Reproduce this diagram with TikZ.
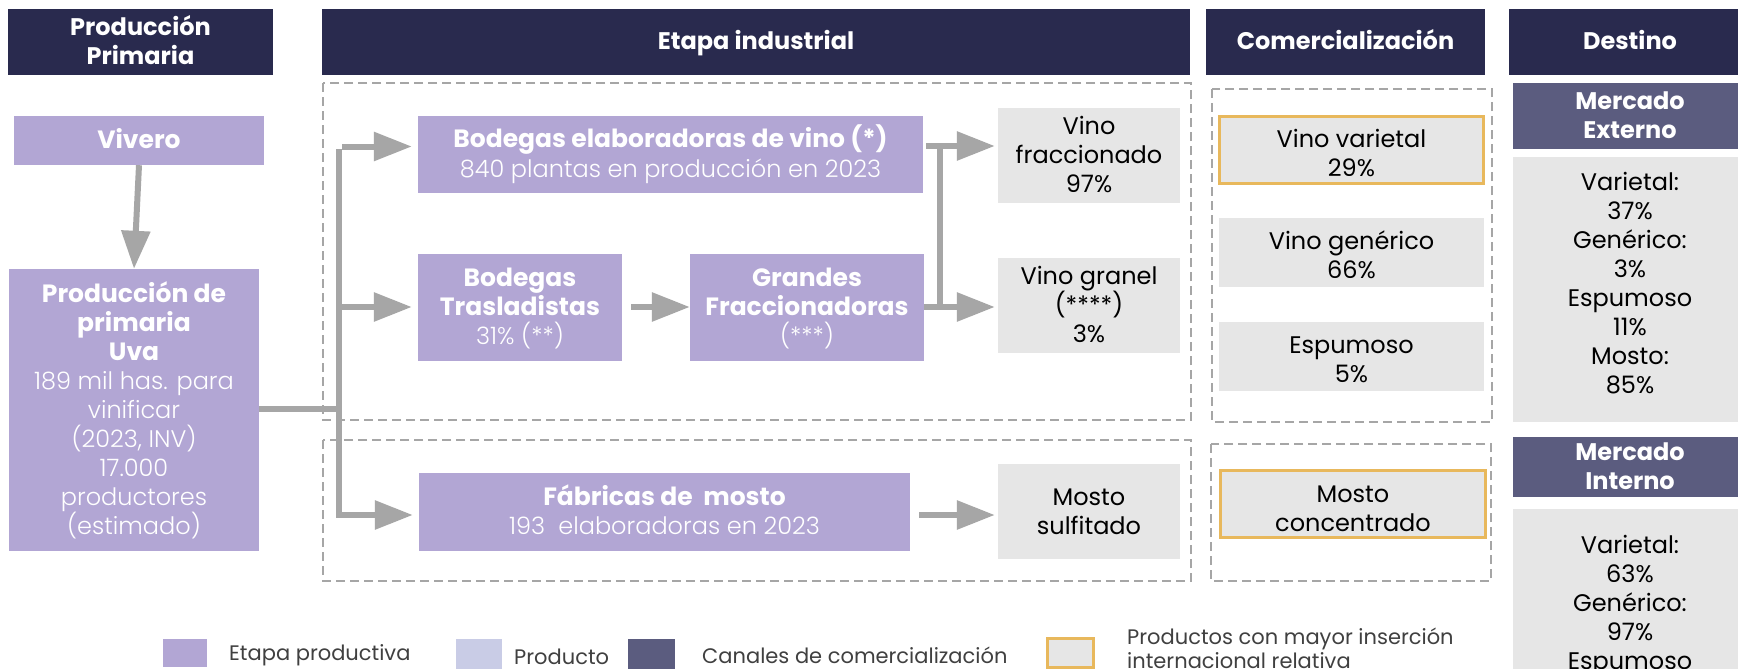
\documentclass[tikz,border=0pt]{standalone}
\usepackage{fontspec}
\setmainfont{Poppins}
\newfontfamily\lightfont{Poppins Light}
\usetikzlibrary{arrows.meta}
\definecolor{navy}{HTML}{292A4E}
\definecolor{lav}{HTML}{B2A6D4}
\definecolor{lgrey}{HTML}{E6E6E6}
\definecolor{slate}{HTML}{5B5C7F}
\definecolor{peri}{HTML}{C9CCE6}
\definecolor{gold}{HTML}{E8B85C}
\definecolor{agrey}{HTML}{A6A6A6}
\definecolor{ltxt}{HTML}{404040}
\newcommand{\fs}{\fontsize{24}{29}\selectfont}
\newcommand{\bfs}{\fontsize{25}{29}\selectfont\bfseries}
\newcommand{\lgfs}{\fontsize{21}{24}\selectfont}
\newcommand{\lt}[1]{{\lightfont #1}}
\newcommand{\bd}[1]{{\bfs #1}}
\newcommand{\sr}{\rule[-6.5pt]{0pt}{29pt}}
\newcommand{\srtop}[1]{\rule{0pt}{#1}}
\tikzset{
  hdr/.style={fill=navy, text=white, font=\fs\bfseries, align=center, inner sep=0pt},
  stage/.style={fill=lav, text=white, font=\fs, align=center, inner sep=0pt},
  prodbox/.style={fill=lgrey, text=black, font=\fs, align=center, inner sep=0pt},
  hibox/.style={prodbox, draw=gold, line width=3pt},
  mkt/.style={fill=slate, text=white, font=\fs\bfseries, align=center, inner sep=0pt},
  plaintext/.style={text=black, font=\fs, align=center, inner sep=0pt},
  dbox/.style={draw=agrey, line width=1.8pt, dash pattern=on 9pt off 5pt},
  conn/.style={draw=agrey, line width=6pt},
  arr/.style={conn, -{Triangle[length=38pt,width=28pt]}},
  swatch/.style={inner sep=0pt},
  lgtext/.style={anchor=west, text=ltxt, font=\lgfs, align=left, inner sep=0pt},
}
\begin{document}
\begin{tikzpicture}[x=1pt,y=-1pt]
\clip (0,0) rectangle (1738,669);
\fill[white] (0,0) rectangle (1738,669);

% headers
\node[hdr, minimum width=265pt, minimum height=66pt] (hPP) at (140.5,42) {\sr Producción\\Primaria\sr};
\node[hdr, minimum width=868pt, minimum height=66pt] (hEI) at (756,42) {\sr Etapa industrial};
\node[hdr, minimum width=279pt, minimum height=66pt] (hCO) at (1345.5,42) {\sr Comercialización};
\node[hdr, minimum width=242pt, minimum height=66pt] (hDE) at (1630,42) {\sr Destino};

% dashed containers
\draw[dbox] (323,83) rectangle (1191,420);
\draw[dbox] (323,440) rectangle (1191,581);
\draw[dbox] (1212,89) rectangle (1492,422);
\draw[dbox] (1211,444) rectangle (1491,581);

% primary production
\node[stage, minimum width=250pt, minimum height=49pt] (vivero) at (139,140.5) {\sr\bd{Vivero}};
\node[stage, minimum width=250pt, minimum height=282pt] (prim) at (134,410)
  {\sr\bd{Producción de}\\\bd{primaria}\\\bd{Uva}\\\lt{189 mil has. para}\\\lt{vinificar}\\\lt{(2023, INV)}\\\lt{17.000}\\\lt{productores}\\\lt{(estimado)}\sr};

% industrial stage
\node[stage, minimum width=505pt, minimum height=77pt] (bodElab) at (670.5,154.5)
  {\sr\bd{Bodegas elaboradoras de vino (*)}\\\lt{840 plantas en producción en 2023}\sr};
\node[stage, minimum width=204pt, minimum height=107pt] (bodTras) at (520,307.5)
  {\sr\bd{Bodegas}\\\bd{Trasladistas}\\\lt{31\% (**)}\sr};
\node[stage, minimum width=234pt, minimum height=107pt] (grandes) at (807,307.5)
  {\sr\bd{Grandes}\\\bd{Fraccionadoras}\\\lt{(***)}\sr};
\node[stage, minimum width=491pt, minimum height=78pt] (fabricas) at (664.5,512)
  {\sr\bd{Fábricas de\ \ mosto}\\\lt{193\ \ elaboradoras en 2023}\sr};

\node[prodbox, minimum width=182pt, minimum height=95pt] (vFrac) at (1089,155.5) {\sr Vino\\fraccionado\\97\%\sr};
\node[prodbox, minimum width=182pt, minimum height=95pt] (vGran) at (1089,305.5) {\sr Vino granel\\(****)\\3\%\sr};
\node[prodbox, minimum width=182pt, minimum height=95pt] (mSulf) at (1089,511.5) {\sr Mosto\\sulfitado\sr};

% commercialization
\node[hibox, minimum width=264pt, minimum height=67pt] (cVar) at (1351.5,150) {\srtop{30pt}\sr Vino varietal\\29\%\sr};
\node[prodbox, minimum width=265pt, minimum height=69pt] (cGen) at (1351.5,252.5) {\srtop{29.5pt}\sr Vino genérico\\66\%\sr};
\node[prodbox, minimum width=265pt, minimum height=69pt] (cEsp) at (1351.5,356.5) {\srtop{29.5pt}\sr Espumoso\\5\%\sr};
\node[hibox, minimum width=265pt, minimum height=67pt] (cMosto) at (1353,504) {\srtop{32pt}\sr Mosto\\concentrado\sr};

% destination
\node[mkt, minimum width=234pt, minimum height=66pt] (mExt) at (1630,116) {\sr Mercado\\Externo\sr};
\node[prodbox, minimum width=234pt, minimum height=265pt] (gExt) at (1630,289.5) {};
\node[plaintext] (gExtTxt) at (1630,284)
  {\sr Varietal:\\37\%\\Genérico:\\3\%\\Espumoso\\11\%\\Mosto:\\85\%\sr};
\node[mkt, minimum width=234pt, minimum height=60pt] (mInt) at (1630,467) {\sr Mercado\\Interno\sr};
\node[prodbox, minimum width=234pt, minimum height=211pt] (gInt) at (1630,614.5) {};
\node[plaintext] (gIntTxt) at (1630,603)
  {\sr Varietal:\\63\%\\Genérico:\\97\%\\Espumoso\sr};

% connectors
\coordinate (tTop) at (339,146.5);
\coordinate (tMid) at (339,307);
\coordinate (tJoin) at (339,409);
\coordinate (tBot) at (339,515);
\draw[arr] (vivero.south) -- (prim.north);
\draw[conn] (prim.east |- tJoin) -- (tJoin);
\draw[conn] (339,149) -- (339,518);
\draw[arr, shorten >=6pt] (342,146.5) -- (bodElab.west |- tTop);
\draw[arr, shorten >=6pt] (tMid) -- (bodTras.west |- tMid);
\draw[arr, shorten >=6pt] (336,515) -- (fabricas.west |- tBot);
\draw[arr, shorten <=9pt] (bodTras.east |- tMid) -- (grandes.west |- tMid);
\coordinate (jTop) at (940,146);
\coordinate (jBot) at (940,307);
\draw[conn] (940,149) -- (940,304);
\draw[arr, shorten <=3pt, shorten >=3pt] (bodElab.east |- jTop) -- (vFrac.west |- jTop);
\draw[arr, shorten >=3pt] (grandes.east |- jBot) -- (vGran.west |- jBot);
\draw[arr, shorten <=9pt, shorten >=3pt] (fabricas.east |- tBot) -- (mSulf.west |- tBot);

% legend
\node[swatch, fill=lav, minimum width=44pt, minimum height=28pt] (lg1) at (185,653) {};
\node[lgtext] (lt1) at (229,655) {Etapa productiva};
\node[swatch, fill=peri, minimum width=46pt, minimum height=31pt] (lg2) at (479,654) {};
\node[lgtext] (lt2) at (514,657) {Producto};
\node[swatch, fill=slate, minimum width=47pt, minimum height=31pt] (lg3) at (651.5,654) {};
\node[lgtext] (lt3) at (702,655) {Canales de comercialización};
\node[swatch, fill=lgrey, draw=gold, line width=3pt, minimum width=46pt, minimum height=29pt] (lg4) at (1070.5,653) {};
\node[lgtext] (lt4) at (1127,648) {Productos con mayor inserción\\internacional relativa};
\end{tikzpicture}
\end{document}
